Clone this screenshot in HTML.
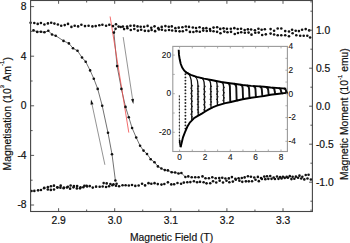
<!DOCTYPE html>
<html><head><meta charset="utf-8"><style>
html,body{margin:0;padding:0;background:#fff;width:350px;height:243px;overflow:hidden;font-family:"Liberation Sans",sans-serif;}
svg{display:block;}
</style></head><body>
<svg width="350" height="243" viewBox="0 0 350 243">
<rect width="350" height="243" fill="#fff"/>
<polyline fill="none" stroke="#333" stroke-width="0.7" points="33.5,30.4 37.2,31.9 40.9,31.7 44.4,32.3 48.3,30.8 52.0,34.5 55.7,35.7 63.5,40.9 68.9,43.4 73.0,48.3 77.5,50.8 82.0,57.5 85.7,61.7 90.1,70.4 93.8,78.7 97.7,88.9 102.2,105.7 108.0,132.8 112.0,154.3 115.4,180.5"/>
<polyline fill="none" stroke="#333" stroke-width="0.7" points="115.6,28.7 113.9,32.6 117.1,66.1 121.4,88.9 125.5,106.9 128.8,117.3 132.1,128.0 136.2,137.5 140.1,145.8 143.5,150.6 147.0,154.0 150.7,159.2 154.5,162.2 157.9,166.4 161.4,168.5 164.8,170.1 167.9,170.4 171.7,172.2 175.1,172.5 178.5,173.5 181.4,173.0 185.4,177.0"/>
<line x1="110.1" y1="16.5" x2="128.8" y2="132.6" stroke="#f04848" stroke-width="0.8"/>
<line x1="104.9" y1="164.8" x2="92.04" y2="104.49" stroke="#666" stroke-width="0.7"/><polygon fill="#111" points="91.0,99.6 93.51,104.18 90.58,104.80"/>
<line x1="123.2" y1="37.1" x2="132.55" y2="99.06" stroke="#666" stroke-width="0.7"/><polygon fill="#111" points="133.3,104.0 131.07,99.28 134.04,98.83"/>
<g fill="#111">
<circle cx="30.60" cy="22.70" r="1.30"/>
<circle cx="34.30" cy="23.00" r="1.30"/>
<circle cx="37.70" cy="23.90" r="1.30"/>
<circle cx="40.90" cy="23.00" r="1.30"/>
<circle cx="44.40" cy="24.50" r="1.30"/>
<circle cx="47.90" cy="23.40" r="1.30"/>
<circle cx="51.20" cy="22.70" r="1.30"/>
<circle cx="54.40" cy="23.60" r="1.30"/>
<circle cx="57.90" cy="24.50" r="1.30"/>
<circle cx="61.20" cy="25.70" r="1.30"/>
<circle cx="64.70" cy="25.10" r="1.30"/>
<circle cx="68.00" cy="23.90" r="1.30"/>
<circle cx="71.40" cy="26.90" r="1.30"/>
<circle cx="74.70" cy="25.70" r="1.30"/>
<circle cx="78.10" cy="26.40" r="1.30"/>
<circle cx="81.40" cy="24.70" r="1.30"/>
<circle cx="85.00" cy="26.10" r="1.30"/>
<circle cx="88.60" cy="25.70" r="1.30"/>
<circle cx="92.40" cy="26.40" r="1.30"/>
<circle cx="95.70" cy="26.10" r="1.30"/>
<circle cx="99.30" cy="25.30" r="1.30"/>
<circle cx="102.40" cy="24.70" r="1.30"/>
<circle cx="106.10" cy="25.70" r="1.30"/>
<circle cx="109.30" cy="24.70" r="1.30"/>
<circle cx="113.00" cy="26.10" r="1.30"/>
<circle cx="116.00" cy="24.20" r="1.30"/>
<circle cx="118.60" cy="26.60" r="1.30"/>
<circle cx="120.70" cy="27.00" r="1.30"/>
<circle cx="122.90" cy="26.60" r="1.30"/>
<circle cx="127.10" cy="26.60" r="1.30"/>
<circle cx="130.49" cy="25.77" r="1.30"/>
<circle cx="134.14" cy="25.64" r="1.30"/>
<circle cx="137.52" cy="26.41" r="1.30"/>
<circle cx="140.68" cy="26.81" r="1.30"/>
<circle cx="144.12" cy="26.69" r="1.30"/>
<circle cx="147.59" cy="25.92" r="1.30"/>
<circle cx="151.25" cy="27.75" r="1.30"/>
<circle cx="154.52" cy="26.36" r="1.30"/>
<circle cx="158.28" cy="28.16" r="1.30"/>
<circle cx="161.70" cy="26.89" r="1.30"/>
<circle cx="165.39" cy="26.11" r="1.30"/>
<circle cx="168.77" cy="26.76" r="1.30"/>
<circle cx="171.79" cy="26.40" r="1.30"/>
<circle cx="175.34" cy="28.14" r="1.30"/>
<circle cx="178.71" cy="27.63" r="1.30"/>
<circle cx="182.43" cy="27.19" r="1.30"/>
<circle cx="185.83" cy="26.51" r="1.30"/>
<circle cx="188.99" cy="26.91" r="1.30"/>
<circle cx="192.81" cy="27.50" r="1.30"/>
<circle cx="196.04" cy="27.94" r="1.30"/>
<circle cx="199.57" cy="27.31" r="1.30"/>
<circle cx="203.23" cy="28.35" r="1.30"/>
<circle cx="206.35" cy="28.13" r="1.30"/>
<circle cx="209.97" cy="28.94" r="1.30"/>
<circle cx="213.54" cy="27.61" r="1.30"/>
<circle cx="217.14" cy="27.29" r="1.30"/>
<circle cx="220.25" cy="28.90" r="1.30"/>
<circle cx="223.54" cy="28.34" r="1.30"/>
<circle cx="226.92" cy="28.86" r="1.30"/>
<circle cx="230.81" cy="28.71" r="1.30"/>
<circle cx="234.33" cy="28.17" r="1.30"/>
<circle cx="237.67" cy="28.93" r="1.30"/>
<circle cx="241.05" cy="28.68" r="1.30"/>
<circle cx="244.65" cy="29.93" r="1.30"/>
<circle cx="247.88" cy="29.34" r="1.30"/>
<circle cx="251.09" cy="29.52" r="1.30"/>
<circle cx="254.89" cy="30.30" r="1.30"/>
<circle cx="258.44" cy="28.69" r="1.30"/>
<circle cx="261.63" cy="29.70" r="1.30"/>
<circle cx="264.86" cy="29.29" r="1.30"/>
<circle cx="270.60" cy="29.10" r="1.30"/>
<circle cx="274.10" cy="30.70" r="1.30"/>
<circle cx="277.70" cy="28.50" r="1.30"/>
<circle cx="281.30" cy="28.50" r="1.30"/>
<circle cx="285.20" cy="31.10" r="1.30"/>
<circle cx="289.00" cy="31.50" r="1.30"/>
<circle cx="292.10" cy="29.80" r="1.30"/>
<circle cx="295.70" cy="30.70" r="1.30"/>
<circle cx="298.90" cy="31.10" r="1.30"/>
<circle cx="302.10" cy="29.80" r="1.30"/>
<circle cx="305.70" cy="29.10" r="1.30"/>
<circle cx="309.20" cy="30.40" r="1.30"/>
<circle cx="124.10" cy="29.10" r="1.30"/>
<circle cx="127.40" cy="28.32" r="1.30"/>
<circle cx="130.79" cy="30.04" r="1.30"/>
<circle cx="134.28" cy="28.94" r="1.30"/>
<circle cx="137.88" cy="30.60" r="1.30"/>
<circle cx="141.15" cy="29.72" r="1.30"/>
<circle cx="144.88" cy="30.86" r="1.30"/>
<circle cx="148.49" cy="30.91" r="1.30"/>
<circle cx="151.62" cy="29.93" r="1.30"/>
<circle cx="155.12" cy="31.15" r="1.30"/>
<circle cx="158.92" cy="29.49" r="1.30"/>
<circle cx="161.91" cy="29.78" r="1.30"/>
<circle cx="165.39" cy="30.49" r="1.30"/>
<circle cx="169.05" cy="30.05" r="1.30"/>
<circle cx="172.15" cy="30.52" r="1.30"/>
<circle cx="175.82" cy="30.98" r="1.30"/>
<circle cx="179.62" cy="31.37" r="1.30"/>
<circle cx="182.81" cy="31.29" r="1.30"/>
<circle cx="186.36" cy="30.04" r="1.30"/>
<circle cx="189.94" cy="31.88" r="1.30"/>
<circle cx="193.37" cy="32.02" r="1.30"/>
<circle cx="196.54" cy="31.16" r="1.30"/>
<circle cx="199.81" cy="31.82" r="1.30"/>
<circle cx="203.24" cy="30.60" r="1.30"/>
<circle cx="206.78" cy="30.97" r="1.30"/>
<circle cx="210.30" cy="30.84" r="1.30"/>
<circle cx="213.55" cy="31.22" r="1.30"/>
<circle cx="217.06" cy="31.86" r="1.30"/>
<circle cx="220.47" cy="33.23" r="1.30"/>
<circle cx="224.27" cy="31.62" r="1.30"/>
<circle cx="227.50" cy="32.24" r="1.30"/>
<circle cx="231.02" cy="31.84" r="1.30"/>
<circle cx="234.76" cy="34.07" r="1.30"/>
<circle cx="237.98" cy="32.98" r="1.30"/>
<circle cx="241.20" cy="32.20" r="1.30"/>
<circle cx="244.81" cy="32.73" r="1.30"/>
<circle cx="248.55" cy="32.62" r="1.30"/>
<circle cx="251.51" cy="34.63" r="1.30"/>
<circle cx="255.27" cy="32.78" r="1.30"/>
<circle cx="258.73" cy="32.58" r="1.30"/>
<circle cx="262.17" cy="34.95" r="1.30"/>
<circle cx="265.82" cy="34.36" r="1.30"/>
<circle cx="270.60" cy="33.60" r="1.30"/>
<circle cx="274.10" cy="34.50" r="1.30"/>
<circle cx="277.70" cy="35.20" r="1.30"/>
<circle cx="281.30" cy="35.20" r="1.30"/>
<circle cx="285.20" cy="35.20" r="1.30"/>
<circle cx="289.00" cy="36.20" r="1.30"/>
<circle cx="292.60" cy="33.30" r="1.30"/>
<circle cx="296.30" cy="35.20" r="1.30"/>
<circle cx="300.20" cy="35.80" r="1.30"/>
<circle cx="303.70" cy="35.80" r="1.30"/>
<circle cx="307.30" cy="35.80" r="1.30"/>
<circle cx="310.10" cy="37.50" r="1.30"/>
<circle cx="33.50" cy="30.40" r="1.30"/>
<circle cx="37.20" cy="31.90" r="1.30"/>
<circle cx="40.90" cy="31.70" r="1.30"/>
<circle cx="44.40" cy="32.30" r="1.30"/>
<circle cx="48.30" cy="30.80" r="1.30"/>
<circle cx="52.00" cy="34.50" r="1.30"/>
<circle cx="55.70" cy="35.70" r="1.30"/>
<circle cx="63.50" cy="40.90" r="1.30"/>
<circle cx="68.90" cy="43.40" r="1.30"/>
<circle cx="73.00" cy="48.30" r="1.30"/>
<circle cx="77.50" cy="50.80" r="1.30"/>
<circle cx="82.00" cy="57.50" r="1.30"/>
<circle cx="85.70" cy="61.70" r="1.30"/>
<circle cx="90.10" cy="70.40" r="1.30"/>
<circle cx="93.80" cy="78.70" r="1.30"/>
<circle cx="97.70" cy="88.90" r="1.30"/>
<circle cx="102.20" cy="105.70" r="1.30"/>
<circle cx="108.00" cy="132.80" r="1.30"/>
<circle cx="112.00" cy="154.30" r="1.30"/>
<circle cx="115.40" cy="180.50" r="1.30"/>
<circle cx="115.60" cy="28.70" r="1.30"/>
<circle cx="113.90" cy="32.60" r="1.30"/>
<circle cx="117.10" cy="66.10" r="1.30"/>
<circle cx="121.40" cy="88.90" r="1.30"/>
<circle cx="125.50" cy="106.90" r="1.30"/>
<circle cx="128.80" cy="117.30" r="1.30"/>
<circle cx="132.10" cy="128.00" r="1.30"/>
<circle cx="136.20" cy="137.50" r="1.30"/>
<circle cx="140.10" cy="145.80" r="1.30"/>
<circle cx="143.50" cy="150.60" r="1.30"/>
<circle cx="147.00" cy="154.00" r="1.30"/>
<circle cx="150.70" cy="159.20" r="1.30"/>
<circle cx="154.50" cy="162.20" r="1.30"/>
<circle cx="157.90" cy="166.40" r="1.30"/>
<circle cx="161.40" cy="168.50" r="1.30"/>
<circle cx="164.80" cy="170.10" r="1.30"/>
<circle cx="167.90" cy="170.40" r="1.30"/>
<circle cx="171.70" cy="172.20" r="1.30"/>
<circle cx="175.10" cy="172.50" r="1.30"/>
<circle cx="178.50" cy="173.50" r="1.30"/>
<circle cx="181.40" cy="173.00" r="1.30"/>
<circle cx="185.40" cy="177.00" r="1.30"/>
<circle cx="188.30" cy="176.40" r="1.30"/>
<circle cx="191.70" cy="177.30" r="1.30"/>
<circle cx="195.20" cy="177.30" r="1.30"/>
<circle cx="198.60" cy="177.30" r="1.30"/>
<circle cx="202.50" cy="176.40" r="1.30"/>
<circle cx="205.50" cy="178.20" r="1.30"/>
<circle cx="208.90" cy="178.20" r="1.30"/>
<circle cx="212.30" cy="177.30" r="1.30"/>
<circle cx="215.70" cy="178.20" r="1.30"/>
<circle cx="219.20" cy="178.00" r="1.30"/>
<circle cx="222.26" cy="177.70" r="1.30"/>
<circle cx="225.40" cy="178.50" r="1.30"/>
<circle cx="228.82" cy="178.42" r="1.30"/>
<circle cx="231.90" cy="177.10" r="1.30"/>
<circle cx="235.39" cy="178.69" r="1.30"/>
<circle cx="238.61" cy="178.20" r="1.30"/>
<circle cx="241.79" cy="177.97" r="1.30"/>
<circle cx="244.64" cy="177.39" r="1.30"/>
<circle cx="247.91" cy="176.22" r="1.30"/>
<circle cx="250.92" cy="176.69" r="1.30"/>
<circle cx="254.26" cy="177.52" r="1.30"/>
<circle cx="257.87" cy="176.91" r="1.30"/>
<circle cx="261.06" cy="178.02" r="1.30"/>
<circle cx="264.27" cy="176.58" r="1.30"/>
<circle cx="267.03" cy="176.20" r="1.30"/>
<circle cx="270.22" cy="176.07" r="1.30"/>
<circle cx="273.67" cy="177.53" r="1.30"/>
<circle cx="277.00" cy="176.53" r="1.30"/>
<circle cx="280.09" cy="177.16" r="1.30"/>
<circle cx="282.95" cy="176.75" r="1.30"/>
<circle cx="286.65" cy="176.91" r="1.30"/>
<circle cx="289.75" cy="176.14" r="1.30"/>
<circle cx="292.61" cy="176.72" r="1.30"/>
<circle cx="295.90" cy="176.65" r="1.30"/>
<circle cx="299.48" cy="175.65" r="1.30"/>
<circle cx="302.34" cy="176.76" r="1.30"/>
<circle cx="305.73" cy="174.95" r="1.30"/>
<circle cx="308.58" cy="174.80" r="1.30"/>
<circle cx="31.54" cy="190.95" r="1.30"/>
<circle cx="34.34" cy="190.90" r="1.30"/>
<circle cx="38.09" cy="190.35" r="1.30"/>
<circle cx="40.96" cy="189.96" r="1.30"/>
<circle cx="44.08" cy="188.25" r="1.30"/>
<circle cx="47.83" cy="189.50" r="1.30"/>
<circle cx="50.82" cy="189.88" r="1.30"/>
<circle cx="54.01" cy="189.52" r="1.30"/>
<circle cx="57.50" cy="187.61" r="1.30"/>
<circle cx="60.40" cy="187.63" r="1.30"/>
<circle cx="63.64" cy="188.20" r="1.30"/>
<circle cx="66.91" cy="187.57" r="1.30"/>
<circle cx="70.08" cy="188.66" r="1.30"/>
<circle cx="73.46" cy="187.37" r="1.30"/>
<circle cx="76.85" cy="188.42" r="1.30"/>
<circle cx="80.00" cy="188.35" r="1.30"/>
<circle cx="83.30" cy="187.24" r="1.30"/>
<circle cx="86.56" cy="185.80" r="1.30"/>
<circle cx="89.76" cy="186.12" r="1.30"/>
<circle cx="92.75" cy="187.61" r="1.30"/>
<circle cx="96.10" cy="186.65" r="1.30"/>
<circle cx="99.69" cy="186.76" r="1.30"/>
<circle cx="102.70" cy="186.49" r="1.30"/>
<circle cx="106.08" cy="187.00" r="1.30"/>
<circle cx="109.06" cy="186.24" r="1.30"/>
<circle cx="112.40" cy="185.32" r="1.30"/>
<circle cx="115.96" cy="185.74" r="1.30"/>
<circle cx="119.09" cy="186.22" r="1.30"/>
<circle cx="122.55" cy="185.24" r="1.30"/>
<circle cx="125.62" cy="185.24" r="1.30"/>
<circle cx="128.81" cy="185.56" r="1.30"/>
<circle cx="132.02" cy="184.98" r="1.30"/>
<circle cx="135.29" cy="185.88" r="1.30"/>
<circle cx="138.67" cy="185.55" r="1.30"/>
<circle cx="142.07" cy="183.78" r="1.30"/>
<circle cx="145.09" cy="185.40" r="1.30"/>
<circle cx="148.50" cy="183.14" r="1.30"/>
<circle cx="151.32" cy="183.79" r="1.30"/>
<circle cx="154.54" cy="183.13" r="1.30"/>
<circle cx="157.79" cy="184.12" r="1.30"/>
<circle cx="161.47" cy="184.58" r="1.30"/>
<circle cx="164.34" cy="183.98" r="1.30"/>
<circle cx="167.90" cy="182.36" r="1.30"/>
<circle cx="171.28" cy="184.38" r="1.30"/>
<circle cx="174.13" cy="184.25" r="1.30"/>
<circle cx="177.49" cy="182.94" r="1.30"/>
<circle cx="181.09" cy="183.74" r="1.30"/>
<circle cx="183.85" cy="182.60" r="1.30"/>
<circle cx="187.31" cy="182.26" r="1.30"/>
<circle cx="190.37" cy="182.11" r="1.30"/>
<circle cx="193.93" cy="181.24" r="1.30"/>
<circle cx="197.08" cy="182.23" r="1.30"/>
<circle cx="200.01" cy="181.85" r="1.30"/>
<circle cx="203.62" cy="182.23" r="1.30"/>
<circle cx="206.54" cy="183.36" r="1.30"/>
<circle cx="210.22" cy="183.22" r="1.30"/>
<circle cx="213.06" cy="181.26" r="1.30"/>
<circle cx="216.27" cy="182.46" r="1.30"/>
<circle cx="219.66" cy="180.64" r="1.30"/>
<circle cx="223.00" cy="182.55" r="1.30"/>
<circle cx="226.49" cy="180.72" r="1.30"/>
<circle cx="229.34" cy="182.31" r="1.30"/>
<circle cx="232.84" cy="181.61" r="1.30"/>
<circle cx="235.80" cy="179.81" r="1.30"/>
<circle cx="239.41" cy="180.63" r="1.30"/>
<circle cx="242.29" cy="181.84" r="1.30"/>
<circle cx="245.88" cy="181.35" r="1.30"/>
<circle cx="248.80" cy="181.36" r="1.30"/>
<circle cx="252.04" cy="181.25" r="1.30"/>
<circle cx="255.52" cy="179.76" r="1.30"/>
<circle cx="258.83" cy="181.16" r="1.30"/>
<circle cx="261.91" cy="178.97" r="1.30"/>
<circle cx="265.32" cy="179.14" r="1.30"/>
<circle cx="268.32" cy="178.83" r="1.30"/>
<circle cx="271.53" cy="178.83" r="1.30"/>
<circle cx="274.94" cy="178.99" r="1.30"/>
<circle cx="278.46" cy="178.84" r="1.30"/>
<circle cx="281.55" cy="178.44" r="1.30"/>
<circle cx="284.71" cy="177.92" r="1.30"/>
<circle cx="287.90" cy="177.80" r="1.30"/>
<circle cx="291.44" cy="179.09" r="1.30"/>
<circle cx="294.36" cy="178.78" r="1.30"/>
<circle cx="298.06" cy="177.72" r="1.30"/>
<circle cx="301.24" cy="178.46" r="1.30"/>
<circle cx="304.30" cy="179.39" r="1.30"/>
<circle cx="307.49" cy="178.43" r="1.30"/>
<circle cx="310.91" cy="179.56" r="1.30"/>
<circle cx="44.27" cy="187.73" r="1.30"/>
<circle cx="47.87" cy="187.13" r="1.30"/>
<circle cx="50.92" cy="186.29" r="1.30"/>
<circle cx="53.94" cy="185.63" r="1.30"/>
<circle cx="57.26" cy="187.30" r="1.30"/>
<circle cx="60.70" cy="185.63" r="1.30"/>
<circle cx="63.87" cy="187.43" r="1.30"/>
<circle cx="67.80" cy="186.85" r="1.30"/>
<circle cx="70.63" cy="185.55" r="1.30"/>
<circle cx="73.93" cy="186.06" r="1.30"/>
<circle cx="77.13" cy="185.93" r="1.30"/>
<circle cx="80.51" cy="187.22" r="1.30"/>
<circle cx="84.38" cy="185.72" r="1.30"/>
<circle cx="87.10" cy="186.54" r="1.30"/>
<circle cx="103.65" cy="183.12" r="1.30"/>
<circle cx="106.70" cy="183.39" r="1.30"/>
<circle cx="110.38" cy="183.96" r="1.30"/>
<circle cx="113.46" cy="184.21" r="1.30"/>
<circle cx="116.60" cy="183.77" r="1.30"/>
</g>
<rect x="172.8" y="46.4" width="114.59999999999997" height="105.1" fill="#fff" stroke="#9a9a9a" stroke-width="1.1"/>
<path d="M179.60 46.4v2M179.60 151.5v-2M192.28 46.4v2M192.28 151.5v-2M204.95 46.4v2M204.95 151.5v-2M217.62 46.4v2M217.62 151.5v-2M230.30 46.4v2M230.30 151.5v-2M242.97 46.4v2M242.97 151.5v-2M255.65 46.4v2M255.65 151.5v-2M268.32 46.4v2M268.32 151.5v-2M281.00 46.4v2M281.00 151.5v-2M172.8 55.10h2M172.8 74.40h2M172.8 93.70h2M172.8 113.00h2M172.8 132.30h2M287.4 46.50h-2M287.4 58.35h-2M287.4 70.20h-2M287.4 82.05h-2M287.4 93.90h-2M287.4 105.75h-2M287.4 117.60h-2M287.4 129.45h-2M287.4 141.30h-2" stroke="#9a9a9a" stroke-width="0.8" fill="none"/>
<path d="M185.50 71.80 C189.40 72.10 191.50 78.73 191.50 84.13 L191.80 119.30 Q191.90 120.80 193.20 119.03 M192.80 75.54 C196.12 75.84 197.90 80.16 197.90 84.75 L198.20 114.34 Q198.30 115.84 199.60 114.87 M200.10 77.64 C202.83 77.94 204.30 81.18 204.30 84.96 L204.60 110.55 Q204.70 112.05 206.00 111.00 M207.40 79.27 C209.54 79.57 210.70 81.90 210.70 84.87 L211.00 106.82 Q211.10 108.32 212.40 107.41 M214.70 80.72 C216.26 81.02 217.10 82.64 217.10 84.80 L217.40 104.13 Q217.50 105.63 218.80 105.07 M221.10 82.00 C222.66 82.30 223.50 83.77 223.50 85.93 L223.80 102.13 Q223.90 103.63 225.20 103.16" stroke="#111" stroke-width="1.3" fill="none"/>
<path d="M227.50 82.89 C229.06 83.19 229.90 84.67 229.90 86.83 L230.20 100.65 Q230.30 102.15 231.60 101.76 M233.90 83.79 C235.46 84.09 236.30 85.56 236.30 87.72 L236.60 99.17 Q236.70 100.67 238.00 100.27 M240.30 84.68 C241.86 84.98 242.70 86.45 242.70 88.61 L243.00 97.68 Q243.10 99.18 244.40 98.88 M246.70 85.43 C248.26 85.73 249.10 87.13 249.10 89.29 L249.40 96.55 Q249.50 98.05 250.80 97.75 M253.10 86.02 C254.66 86.32 255.50 87.60 255.50 89.76 L255.80 95.64 Q255.90 97.14 257.20 96.92 M259.50 86.39 C261.06 86.69 261.90 88.04 261.90 90.20 L262.20 94.79 Q262.30 96.29 263.60 96.06 M265.90 87.00 C267.46 87.30 268.30 88.70 268.30 90.86 L268.60 93.72 Q268.70 95.22 270.00 94.91 M272.30 87.62 C273.86 87.92 274.70 89.23 274.70 91.39 L275.00 92.82 Q275.10 94.32 276.40 94.12 M278.70 88.07 C280.26 88.37 281.10 89.68 281.10 91.84 L281.40 92.05 Q281.50 93.55 282.80 93.33 M283.80 88.43 C285.36 88.73 286.20 90.04 286.20 92.20 L286.50 91.40 Q286.60 92.90 287.90 92.90" stroke="#111" stroke-width="1.9" fill="none"/>
<line x1="179.4" y1="95.5" x2="179.6" y2="143" stroke="#888" stroke-width="0.6"/>
<g fill="#222"><circle cx="192.00" cy="85.63" r="0.9"/><circle cx="191.30" cy="88.23" r="0.9"/><circle cx="192.00" cy="90.83" r="0.9"/><circle cx="191.30" cy="93.43" r="0.9"/><circle cx="192.00" cy="96.03" r="0.9"/><circle cx="191.30" cy="98.63" r="0.9"/><circle cx="192.00" cy="101.23" r="0.9"/><circle cx="191.30" cy="103.83" r="0.9"/><circle cx="192.00" cy="106.43" r="0.9"/><circle cx="191.30" cy="109.03" r="0.9"/><circle cx="192.00" cy="111.63" r="0.9"/><circle cx="191.30" cy="114.23" r="0.9"/><circle cx="192.00" cy="116.83" r="0.9"/><circle cx="198.40" cy="86.25" r="0.9"/><circle cx="197.70" cy="88.85" r="0.9"/><circle cx="198.40" cy="91.45" r="0.9"/><circle cx="197.70" cy="94.05" r="0.9"/><circle cx="198.40" cy="96.65" r="0.9"/><circle cx="197.70" cy="99.25" r="0.9"/><circle cx="198.40" cy="101.85" r="0.9"/><circle cx="197.70" cy="104.45" r="0.9"/><circle cx="198.40" cy="107.05" r="0.9"/><circle cx="197.70" cy="109.65" r="0.9"/><circle cx="198.40" cy="112.25" r="0.9"/><circle cx="204.80" cy="86.46" r="0.9"/><circle cx="204.10" cy="89.06" r="0.9"/><circle cx="204.80" cy="91.66" r="0.9"/><circle cx="204.10" cy="94.26" r="0.9"/><circle cx="204.80" cy="96.86" r="0.9"/><circle cx="204.10" cy="99.46" r="0.9"/><circle cx="204.80" cy="102.06" r="0.9"/><circle cx="204.10" cy="104.66" r="0.9"/><circle cx="204.80" cy="107.26" r="0.9"/><circle cx="204.10" cy="109.86" r="0.9"/><circle cx="211.20" cy="86.37" r="0.9"/><circle cx="210.50" cy="88.97" r="0.9"/><circle cx="211.20" cy="91.57" r="0.9"/><circle cx="210.50" cy="94.17" r="0.9"/><circle cx="211.20" cy="96.77" r="0.9"/><circle cx="210.50" cy="99.37" r="0.9"/><circle cx="211.20" cy="101.97" r="0.9"/><circle cx="210.50" cy="104.57" r="0.9"/><circle cx="217.60" cy="86.30" r="0.9"/><circle cx="216.90" cy="88.90" r="0.9"/><circle cx="217.60" cy="91.50" r="0.9"/><circle cx="216.90" cy="94.10" r="0.9"/><circle cx="217.60" cy="96.70" r="0.9"/><circle cx="216.90" cy="99.30" r="0.9"/><circle cx="217.60" cy="101.90" r="0.9"/><circle cx="224.00" cy="87.43" r="0.9"/><circle cx="223.30" cy="90.03" r="0.9"/><circle cx="224.00" cy="92.63" r="0.9"/><circle cx="223.30" cy="95.23" r="0.9"/><circle cx="224.00" cy="97.83" r="0.9"/><circle cx="223.30" cy="100.43" r="0.9"/><circle cx="185.40" cy="74.20" r="0.95"/><circle cx="185.40" cy="77.40" r="0.95"/><circle cx="185.40" cy="80.60" r="0.95"/><circle cx="185.40" cy="83.80" r="0.95"/><circle cx="185.40" cy="87.00" r="0.95"/><circle cx="185.40" cy="90.20" r="0.95"/><circle cx="185.40" cy="93.40" r="0.95"/><circle cx="185.40" cy="96.60" r="0.95"/><circle cx="185.40" cy="99.80" r="0.95"/><circle cx="185.40" cy="103.00" r="0.95"/><circle cx="185.40" cy="106.20" r="0.95"/><circle cx="185.40" cy="109.40" r="0.95"/><circle cx="185.40" cy="112.60" r="0.95"/><circle cx="185.40" cy="115.80" r="0.95"/><circle cx="185.40" cy="119.00" r="0.95"/><circle cx="185.40" cy="122.20" r="0.95"/><circle cx="185.40" cy="125.40" r="0.95"/><circle cx="185.40" cy="128.60" r="0.95"/><rect x="178.8" y="95.50" width="1.2" height="1.2"/><rect x="178.8" y="98.80" width="1.2" height="1.2"/><rect x="178.8" y="102.10" width="1.2" height="1.2"/><rect x="178.8" y="105.40" width="1.2" height="1.2"/><rect x="178.8" y="108.70" width="1.2" height="1.2"/><rect x="178.8" y="112.00" width="1.2" height="1.2"/><rect x="178.8" y="115.30" width="1.2" height="1.2"/><rect x="178.8" y="118.60" width="1.2" height="1.2"/><rect x="178.8" y="121.90" width="1.2" height="1.2"/><rect x="178.8" y="125.20" width="1.2" height="1.2"/><rect x="178.8" y="128.50" width="1.2" height="1.2"/><rect x="178.8" y="131.80" width="1.2" height="1.2"/><rect x="178.8" y="135.10" width="1.2" height="1.2"/><rect x="178.8" y="138.40" width="1.2" height="1.2"/><rect x="178.8" y="141.70" width="1.2" height="1.2"/></g>
<polyline fill="none" stroke="#000" stroke-width="1.6" points="179.6,140.0 180.0,144.5 180.6,147.2"/>
<polyline fill="none" stroke="#000" stroke-width="1.9" points="178.7,49.7 179.0,54.9 179.7,59.3 180.7,63.8 182.2,67.5 184.1,70.4 186.4,72.7 190.8,74.9 196.7,76.8 204.0,78.6 212.6,80.3 221.1,82.0 229.7,83.2 234.0,83.8 242.6,85.0 251.1,85.9 259.7,86.4 264.0,86.8 270.6,87.5 279.1,88.1 286.2,88.6"/>
<polyline fill="none" stroke="#000" stroke-width="1.9" points="180.6,147.2 181.8,142.2 183.0,137.3 184.9,132.3 187.3,126.8 189.8,122.5 191.7,120.6 193.9,118.3 197.8,115.9 201.8,113.6 206.0,111.0 208.3,109.6 212.6,107.3 216.9,105.7 221.1,104.3 225.4,103.1 229.7,102.2 234.0,101.2 242.6,99.2 251.1,97.7 259.7,96.6 264.0,96.0 270.6,94.8 279.1,93.8 286.2,92.9"/>
<g font-family="Liberation Sans" font-size="8.3" fill="#111" stroke="#111" stroke-width="0.1"><text x="171" y="57.80" text-anchor="end">20</text><text x="171" y="96.40" text-anchor="end">0</text><text x="171" y="135.00" text-anchor="end">-20</text><text x="288.6" y="49.20">4</text><text x="288.6" y="72.90">2</text><text x="288.6" y="96.60">0</text><text x="288.6" y="120.30">-2</text><text x="288.6" y="144.00">-4</text><text x="179.60" y="160.2" text-anchor="middle">0</text><text x="204.95" y="160.2" text-anchor="middle">2</text><text x="230.30" y="160.2" text-anchor="middle">4</text><text x="255.65" y="160.2" text-anchor="middle">6</text><text x="281.00" y="160.2" text-anchor="middle">8</text></g>
<rect x="30.6" y="0.5" width="281.79999999999995" height="211.0" fill="none" stroke="#454545" stroke-width="1.1"/>
<path d="M58.60 211.5v-3.3M58.60 0.5v3.3M86.65 211.5v-2.0M86.65 0.5v2.0M114.70 211.5v-3.3M114.70 0.5v3.3M142.75 211.5v-2.0M142.75 0.5v2.0M170.80 211.5v-3.3M170.80 0.5v3.3M198.85 211.5v-2.0M198.85 0.5v2.0M226.90 211.5v-3.3M226.90 0.5v3.3M254.95 211.5v-2.0M254.95 0.5v2.0M283.00 211.5v-3.3M283.00 0.5v3.3M311.05 211.5v-2.0M311.05 0.5v2.0M30.6 205.00h3.5M30.6 180.20h2.0M30.6 155.40h3.5M30.6 130.60h2.0M30.6 105.80h3.5M30.6 81.00h2.0M30.6 56.20h3.5M30.6 31.40h2.0M30.6 6.60h3.5M312.4 201.20h-2.0M312.4 182.20h-3.3M312.4 163.20h-2.0M312.4 144.20h-3.3M312.4 125.20h-2.0M312.4 106.20h-3.3M312.4 87.20h-2.0M312.4 68.20h-3.3M312.4 49.20h-2.0M312.4 30.20h-3.3M312.4 11.20h-2.0" stroke="#454545" stroke-width="0.9" fill="none"/>
<g font-family="Liberation Sans" font-size="10.3" fill="#111" stroke="#111" stroke-width="0.2"><text x="26.6" y="9.90" text-anchor="end">8</text><text x="26.6" y="59.50" text-anchor="end">4</text><text x="26.6" y="109.10" text-anchor="end">0</text><text x="26.6" y="158.70" text-anchor="end">-4</text><text x="26.6" y="208.30" text-anchor="end">-8</text><text x="315.9" y="33.60">1.0</text><text x="315.9" y="71.60">0.5</text><text x="315.9" y="109.60">0.0</text><text x="315.9" y="147.60">-0.5</text><text x="315.9" y="185.60">-1.0</text><text x="58.70" y="223.9" text-anchor="middle">2.9</text><text x="114.80" y="223.9" text-anchor="middle">3.0</text><text x="170.90" y="223.9" text-anchor="middle">3.1</text><text x="227.00" y="223.9" text-anchor="middle">3.2</text><text x="283.10" y="223.9" text-anchor="middle">3.3</text></g>
<g font-family="Liberation Sans" font-size="10.35" fill="#111" stroke="#111" stroke-width="0.18"><text x="171.6" y="240.6" text-anchor="middle">Magnetic Field (T)</text><g transform="translate(11.0,0) rotate(-90)"><text x="-170.4" y="0">Magnetisation (10</text><text x="-88.3" y="-7.3" font-size="5.8">3</text><text x="-81.6" y="0">Am</text><text x="-65.9" y="-7.3" font-size="5.8">-1</text><text x="-60.6" y="0">)</text></g><text transform="translate(348.2,114.1) rotate(-90)" text-anchor="middle">Magnetic Moment (10<tspan font-size="5.8" dy="-6.2">-1</tspan><tspan dy="6.2"> emu)</tspan></text></g>
</svg>
</body></html>
